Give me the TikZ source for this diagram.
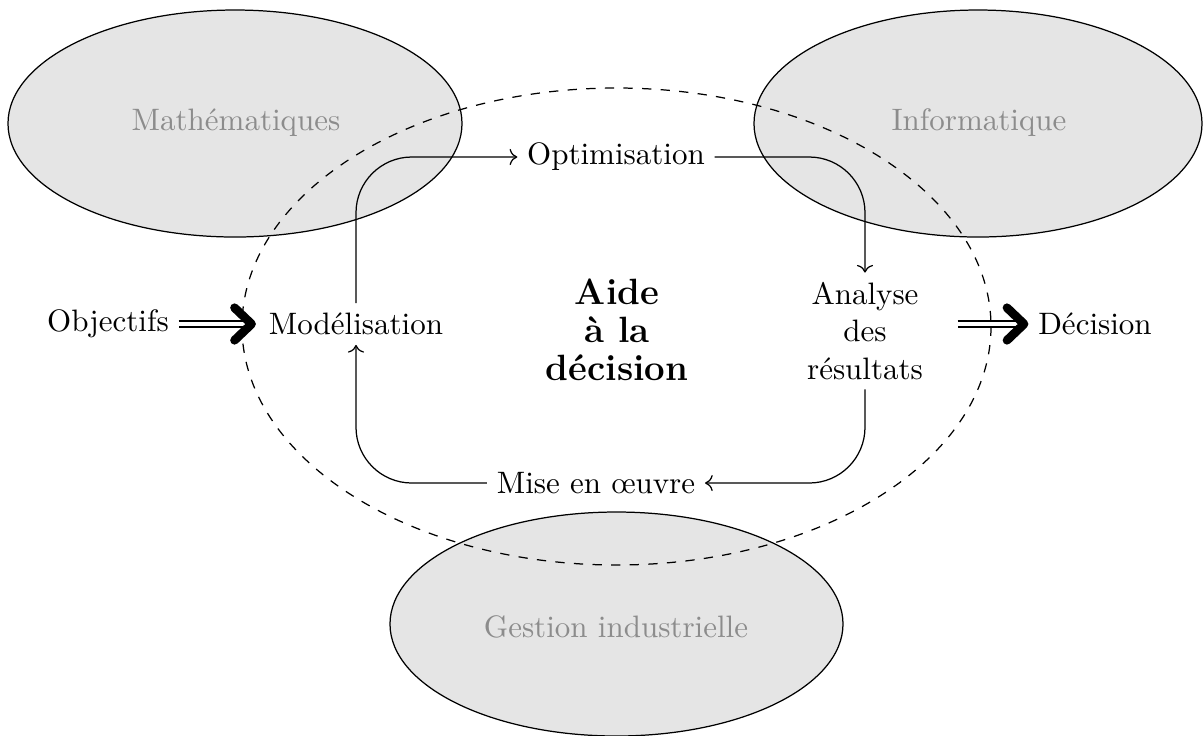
\documentclass[tikz,border=0pt]{standalone}
\usetikzlibrary{arrows.meta}
\begin{document}
\begin{tikzpicture}[x=0.3226pt,y=-0.3226pt,
  fieldarea/.style={draw=black,fill=black!10,line width=0.4pt},
  domlabel/.style={text=black!45},
  lbl/.style={inner sep=3pt},
  flow/.style={->,rounded corners=18pt,line width=0.4pt},
  bigarrow/.style={double,double distance=1.6pt,line width=0.45pt,
    -{Straight Barb[length=5.5pt,width=10.5pt,line width=2.8pt,round]}}]
\useasboundingbox (0,0) rectangle (1203,735);
% domains
\draw[fieldarea] (235,123.5) ellipse [x radius=227, y radius=113.5];
\draw[fieldarea] (978,123.5) ellipse [x radius=224, y radius=113.5];
\draw[fieldarea] (616.5,624) ellipse [x radius=226.5, y radius=112];
\node[domlabel] (math) at (236,123) {Math\'ematiques};
\node[domlabel] (info) at (979,123) {Informatique};
\node[domlabel] (gest) at (616,627) {Gestion industrielle};
% dashed scope
\draw[dashed,line width=0.4pt] (616.5,326.5) ellipse [x radius=374.5, y radius=238.5];
% nodes
\node[lbl] (obj) at (108,324) {Objectifs};
\node[lbl] (mod) at (356,324) {Mod\'elisation};
\node[lbl] (opt) at (616,157) {Optimisation};
\node[lbl,align=center] (ana) at (865,331) {Analyse\\des\\r\'esultats};
\node[lbl] (mise) at (596,483) {Mise en \oe uvre};
\node[lbl] (dec) at (1095,324) {D\'ecision};
\node[align=center,font=\fontsize{11.8}{12.3}\selectfont\bfseries] (aide) at (617,330) {Aide\\\`a la\\d\'ecision};
% cycle
\draw[flow] (mod.north) |- (opt.west);
\draw[flow] (opt.east) -| (ana.north);
\draw[flow] (ana.south) |- (mise.east);
\draw[flow] (mise.west) -| (mod.south);
% inputs/outputs
\draw[bigarrow,shorten >=1pt] (obj.east) -- (mod.west);
\draw[bigarrow,shorten <=8pt] (ana.east |- dec.west) -- (dec.west);
\end{tikzpicture}
\end{document}
